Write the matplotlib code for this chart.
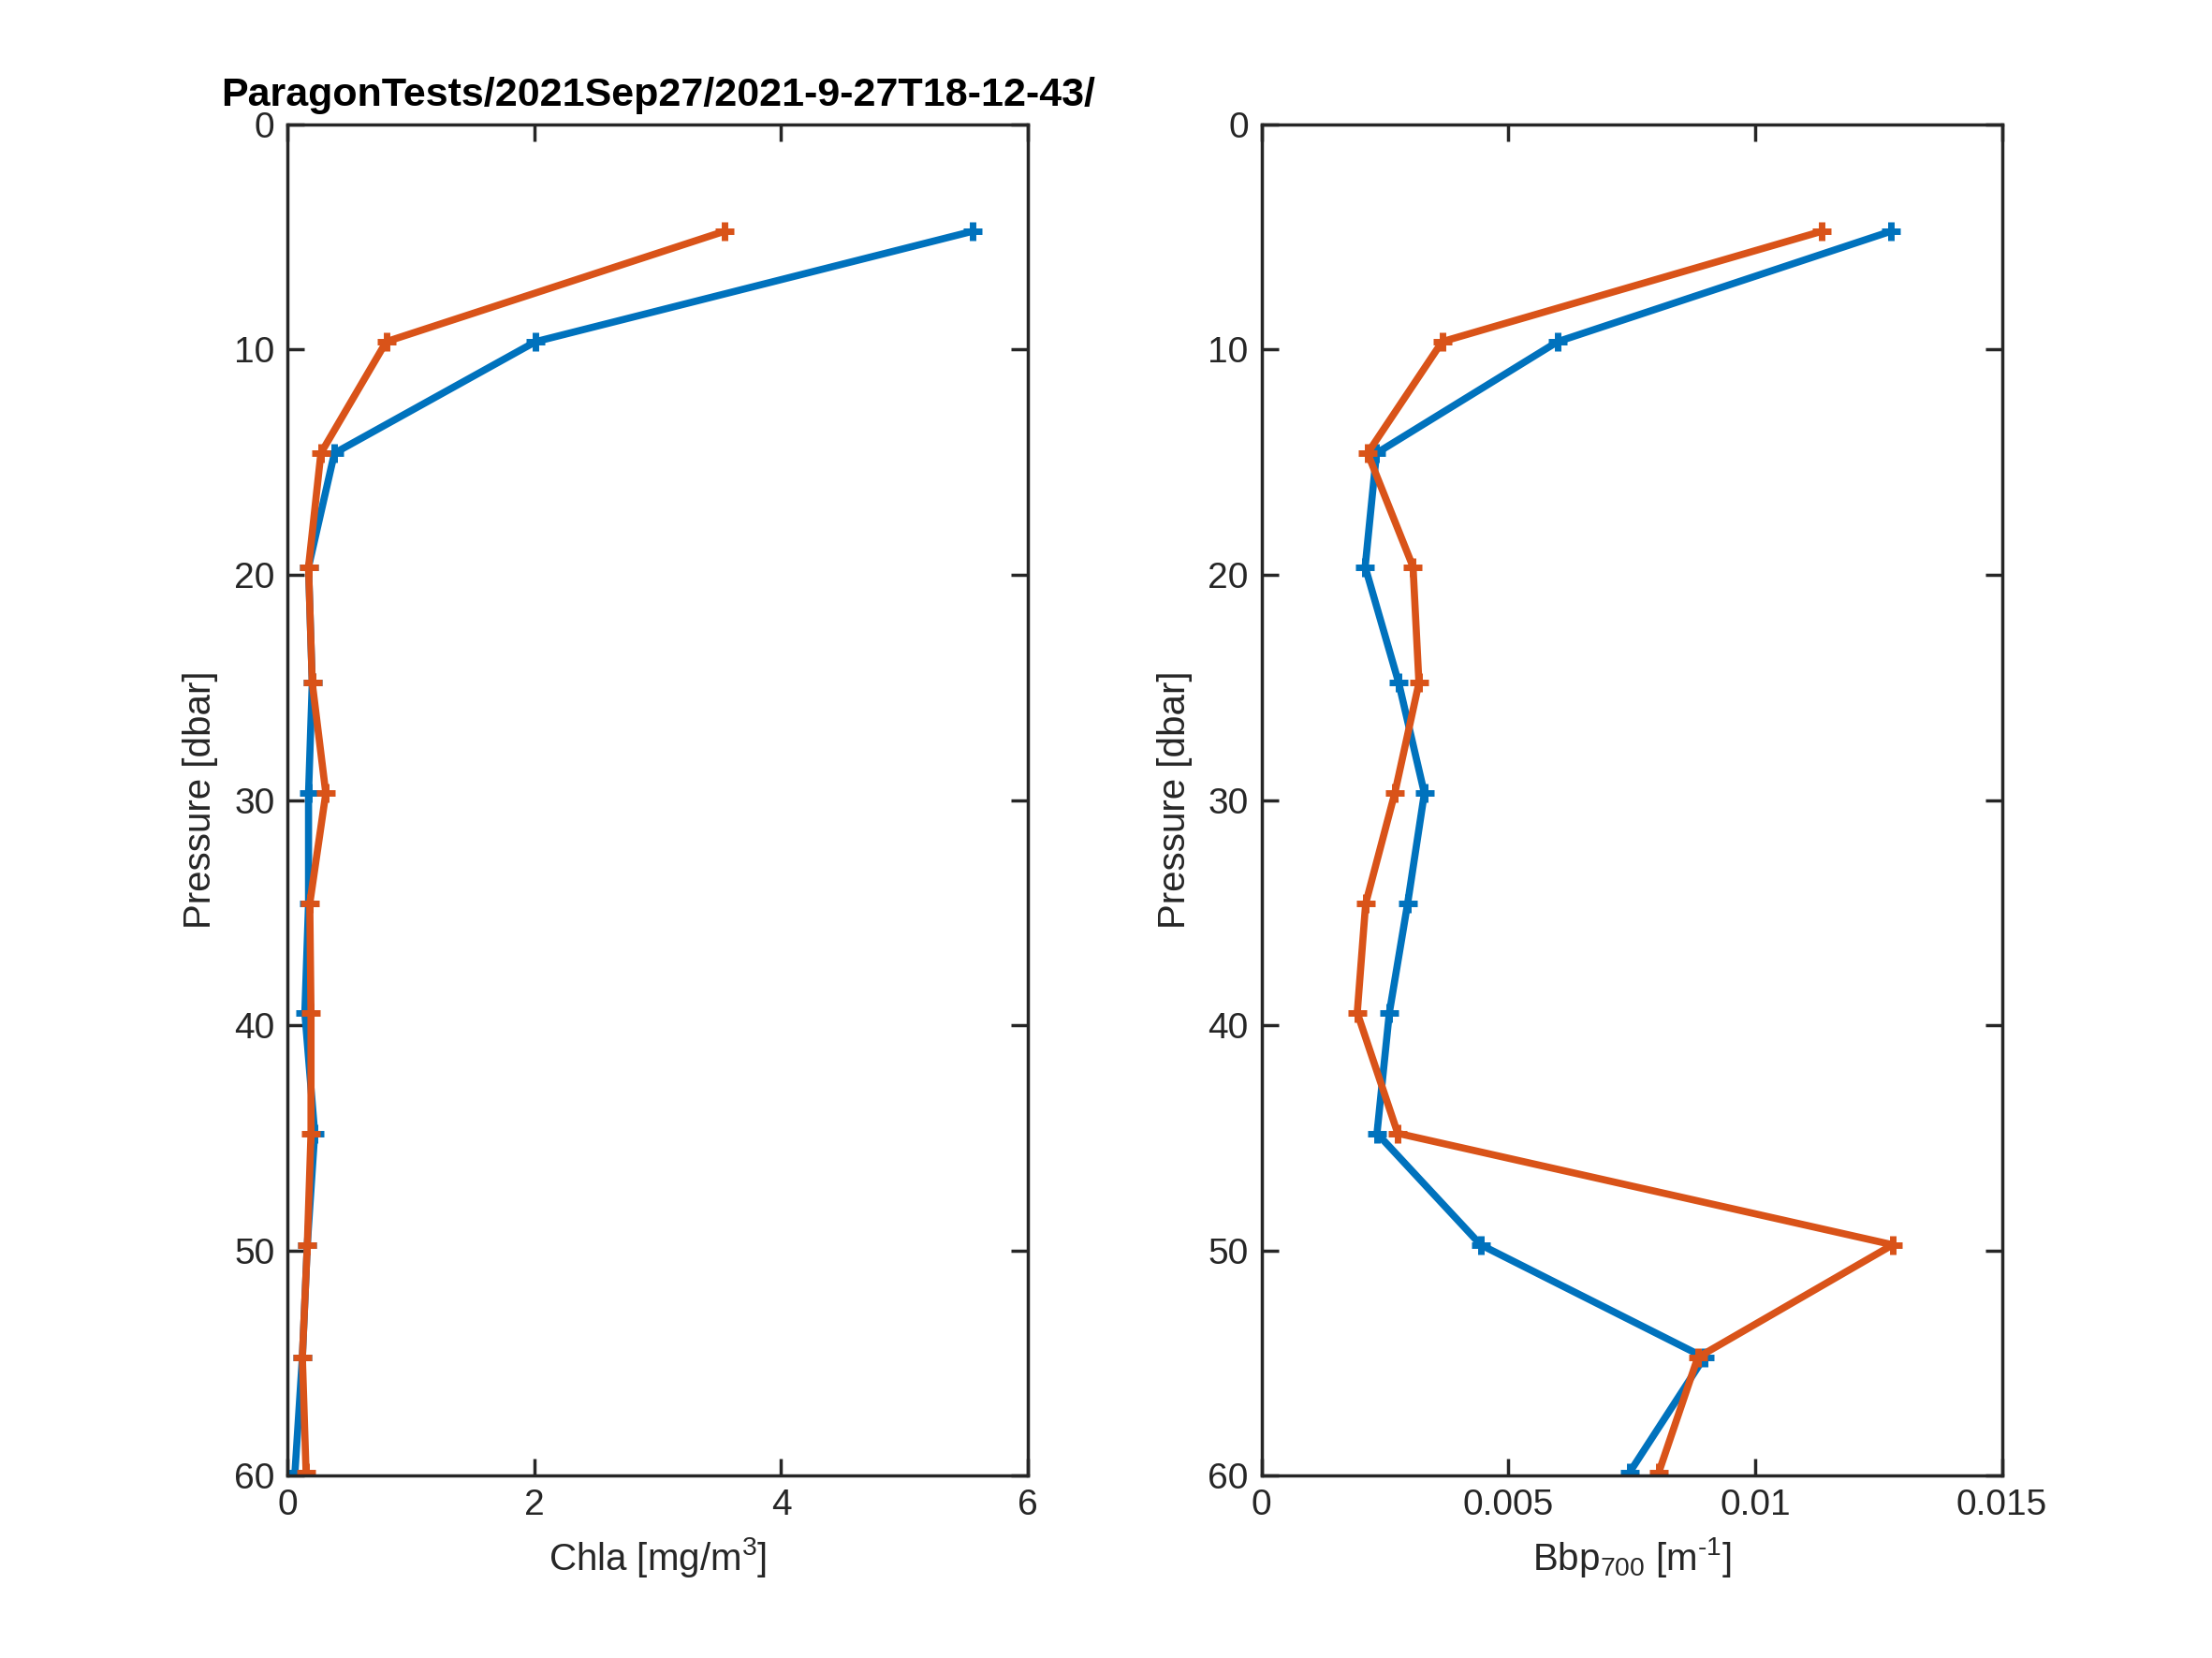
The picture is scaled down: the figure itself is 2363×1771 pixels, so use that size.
import numpy as np
import matplotlib.pyplot as plt
from matplotlib.ticker import FuncFormatter

plt.rcParams['font.family'] = ['Liberation Sans', 'DejaVu Sans']
plt.rcParams['mathtext.fontset'] = 'custom'
plt.rcParams['mathtext.rm'] = 'Liberation Sans'
plt.rcParams['mathtext.default'] = 'regular'

# pressure levels [dbar]
pres = [4.75, 9.65, 14.6, 19.65, 24.8, 29.7, 34.6, 39.45, 44.8, 49.75, 54.75, 59.85]

# Chla [mg/m^3]
chla_blue = [5.55, 2.01, 0.38, 0.17, 0.20, 0.17, 0.17, 0.14, 0.22, 0.16, 0.12, 0.06]
chla_orange = [3.54, 0.80, 0.27, 0.17, 0.20, 0.31, 0.18, 0.19, 0.19, 0.16, 0.12, 0.15]

# Bbp700 [1/m]
bbp_blue = [0.01275, 0.00600, 0.00233, 0.00210, 0.00278, 0.00330, 0.00296, 0.00259,
            0.00234, 0.00444, 0.00897, 0.00746]
bbp_orange = [0.01135, 0.00366, 0.00215, 0.00307, 0.00319, 0.00270, 0.00211, 0.00194,
              0.00276, 0.01279, 0.00884, 0.00805]

title = 'ParagonTests/2021Sep27/2021-9-27T18-12-43/'

c_blue = '#0072BD'
c_orange = '#D95319'
axcol = '#262626'

fig = plt.figure(figsize=(23.63, 17.71), dpi=100)
ax1 = fig.add_axes([0.13, 0.11, 0.3347, 0.815])
ax2 = fig.add_axes([0.5703, 0.11, 0.3347, 0.815])

style = dict(lw=5.5, marker='+', ms=14, mew=5)
ax1.plot(chla_blue, pres, color=c_blue, **style)
ax1.plot(chla_orange, pres, color=c_orange, **style)
ax2.plot(bbp_blue, pres, color=c_blue, **style)
ax2.plot(bbp_orange, pres, color=c_orange, **style)

ax1.set_xlim(0, 6)
ax1.set_xticks([0, 2, 4, 6])
ax2.set_xlim(0, 0.015)
ax2.set_xticks([0, 0.005, 0.01, 0.015])
ax2.xaxis.set_major_formatter(FuncFormatter(lambda v, p: '%g' % v))

for ax in (ax1, ax2):
    ax.set_ylim(60, 0)
    ax.set_yticks(np.arange(0, 61, 10))
    ax.tick_params(direction='in', length=13, width=2.5, labelsize=28,
                   colors=axcol, top=True, right=True, pad=10)
    for s in ax.spines.values():
        s.set_linewidth(2.5)
        s.set_color(axcol)
    ax.set_ylabel('Pressure [dbar]', fontsize=29, color=axcol, labelpad=12)

ax1.set_xlabel('Chla [mg/m$^{3}$]', fontsize=29, color=axcol, labelpad=10)
ax2.set_xlabel('Bbp$_{700}$ [m$^{\u2010 1}$]', fontsize=29, color=axcol, labelpad=10)
ax1.set_title(title, fontsize=31, fontweight='bold', pad=14)

fig.savefig('out.png', dpi=100)
